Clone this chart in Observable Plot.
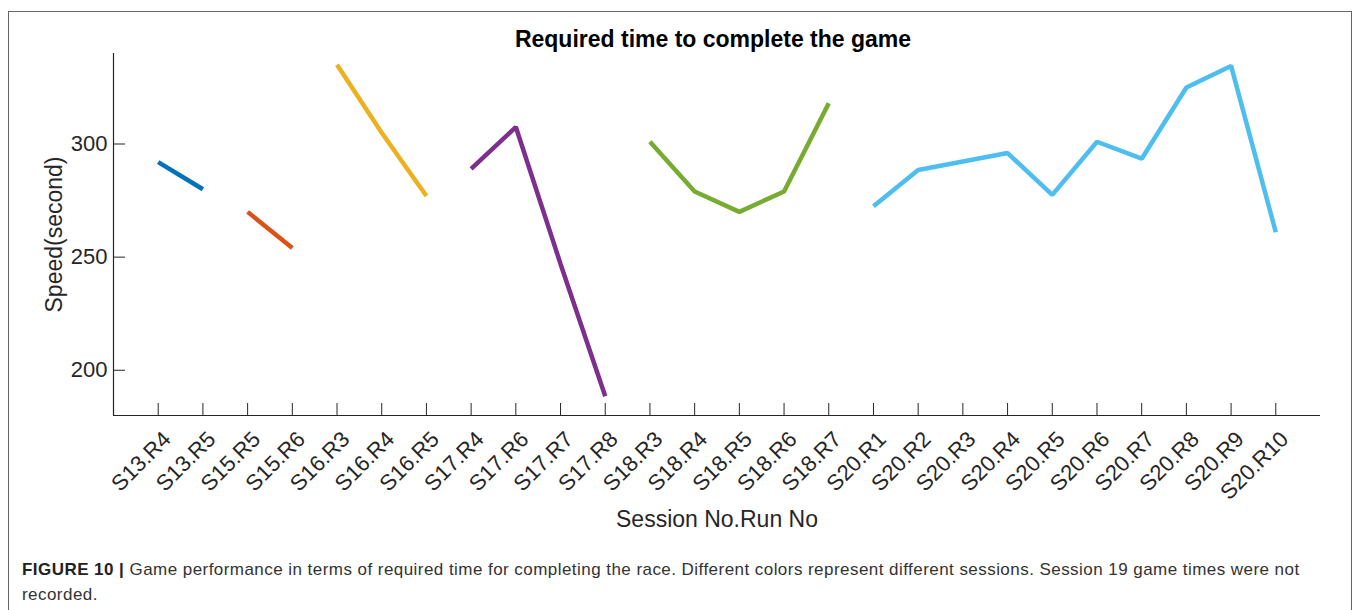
<!DOCTYPE html>
<html>
<head>
<meta charset="utf-8">
<script src="https://cdn.jsdelivr.net/npm/d3@7"></script>
<script src="https://cdn.jsdelivr.net/npm/@observablehq/plot@0.6"></script>
<style>
  html, body { margin: 0; padding: 0; background: #fff; }
  body { width: 1358px; height: 610px; overflow: hidden; position: relative; font-family: "Liberation Sans", Arial, sans-serif; }
  #frame { position: absolute; left: 8px; top: 11px; width: 1344px; height: 640px; border: 1px solid #666; box-sizing: border-box; }
  #chart { position: absolute; left: 0; top: 0; }
  #caption { position: absolute; left: 22px; top: 557px; width: 1325px; font-size: 17px; letter-spacing: 0.45px; line-height: 25px; color: #333; white-space: nowrap; }
  #caption b { color: #222; }
</style>
</head>
<body>
<div id="frame"></div>
<div id="chart"></div>
<div id="caption"><b>FIGURE 10 |</b> Game performance in terms of required time for completing the race. Different colors represent different sessions. Session 19 game times were not<br>recorded.</div>
<script>
const categories = ["S13.R4","S13.R5","S15.R5","S15.R6","S16.R3","S16.R4","S16.R5","S17.R4","S17.R6","S17.R7","S17.R8","S18.R3","S18.R4","S18.R5","S18.R6","S18.R7","S20.R1","S20.R2","S20.R3","S20.R4","S20.R5","S20.R6","S20.R7","S20.R8","S20.R9","S20.R10"];
const times = [292, 280, 270, 254, 335, 305, 277, 289, 307.5, 247, 188.5, 301, 279, 270, 279, 318, 272.5, 288.5, 292.3, 296, 277.5, 301, 293.5, 325, 334.5, 261];
const sessionNames = ["S13","S15","S16","S17","S18","S20"];
const sessionColors = ["#0072BD","#D95319","#EDB120","#7E2F8E","#77AC30","#4DBEEE"];
const yTicks = [200, 250, 300];
const titleText = "Required time to complete the game";
const xLabel = "Session No.Run No";
const yLabel = "Speed(second)";

const data = categories.map((c, i) => ({cat: c, pos: i + 1, session: c.split(".")[0], time: times[i]}));
const axisColor = "#262626";

const chart = Plot.plot({
  width: 1358,
  height: 610,
  marginLeft: 113,
  marginRight: 38,
  marginTop: 53,
  marginBottom: 195,
  x: {type: "linear", domain: [0, categories.length + 1], axis: null},
  y: {domain: [180, 340], axis: null},
  color: {domain: sessionNames, range: sessionColors},
  style: {fontFamily: "'Liberation Sans', Arial, sans-serif", background: "transparent", color: axisColor, overflow: "visible"},
  marks: [
    Plot.ruleX([0], {stroke: axisColor, strokeWidth: 1.2}),
    Plot.ruleY([180], {stroke: axisColor, strokeWidth: 1.2}),
    Plot.ruleX(data, {x: "pos", insetTop: 350, stroke: axisColor}),
    Plot.ruleY(yTicks, {y: d => d, insetRight: 1195, stroke: axisColor}),
    Plot.line(data, {x: "pos", y: "time", z: "session", stroke: "session", strokeWidth: 4.5, strokeLinejoin: "miter", strokeLinecap: "butt"}),
    Plot.text(yTicks, {y: d => d, frameAnchor: "left", dx: -6, textAnchor: "end", lineAnchor: "middle", fontSize: 22, fill: axisColor}),
    Plot.text(data, {x: "pos", text: "cat", frameAnchor: "bottom", dx: 9, dy: 20, rotate: -45, textAnchor: "end", lineAnchor: "middle", fontSize: 22, fill: axisColor}),
    Plot.text([xLabel], {frameAnchor: "bottom", dy: 104, textAnchor: "middle", lineAnchor: "middle", fontSize: 23, fill: axisColor}),
    Plot.text([yLabel], {frameAnchor: "left", dx: -59, rotate: -90, textAnchor: "middle", lineAnchor: "middle", fontSize: 23, fill: axisColor}),
    Plot.text([titleText], {frameAnchor: "top", dx: -4, dy: -14, textAnchor: "middle", lineAnchor: "middle", fontSize: 23, fontWeight: "bold", fill: "#000"})
  ]
});
document.getElementById("chart").appendChild(chart);
</script>
</body>
</html>
